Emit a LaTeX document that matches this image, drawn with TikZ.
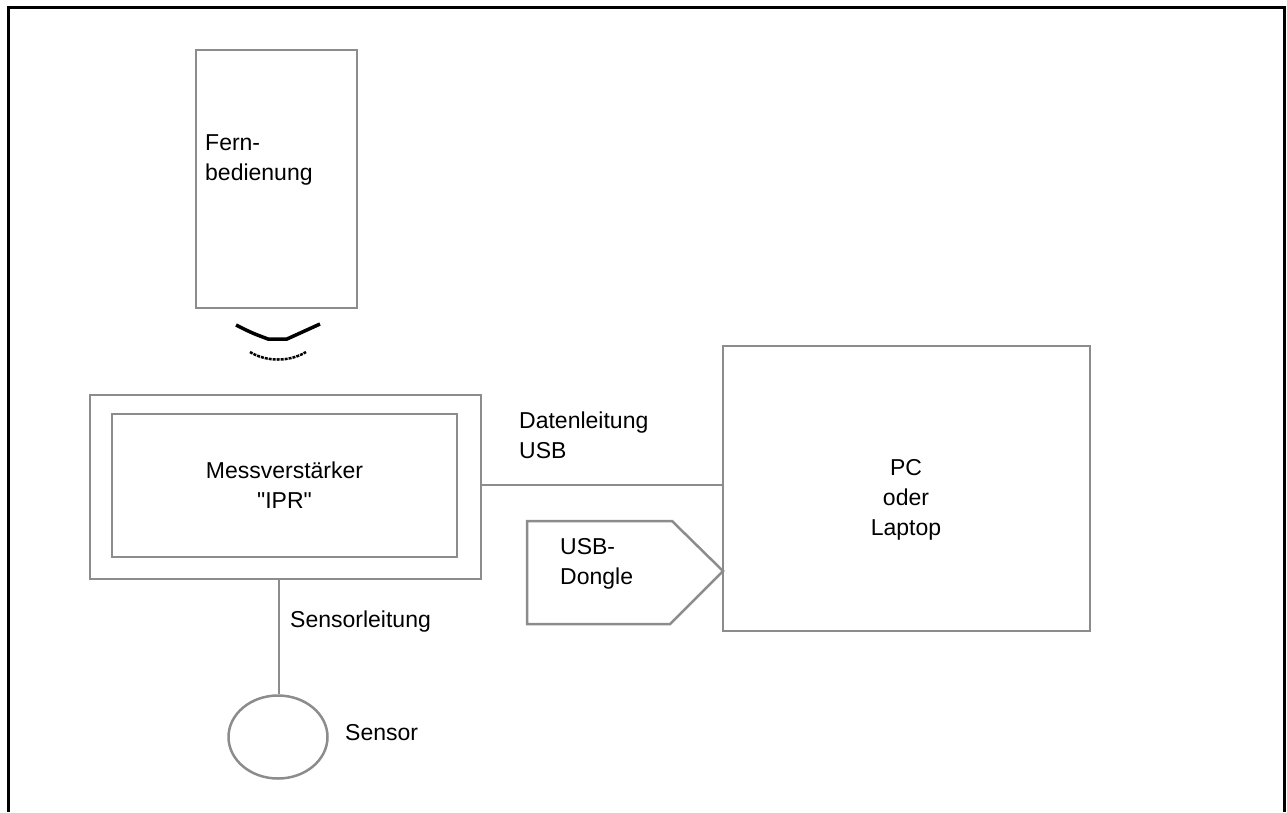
\documentclass[tikz,border=0pt]{standalone}
\usepackage{fontspec}
\setmainfont{Liberation Sans}[Ligatures=TeXOff]
\usetikzlibrary{calc,shapes.geometric}
\definecolor{boxgray}{HTML}{8C8C8C}
\tikzset{
  box/.style={draw=boxgray,line width=2.5pt,inner sep=0pt},
  lbl/.style={inner sep=0pt,font=\fontsize{23}{30}\selectfont},
  wire/.style={draw=boxgray,line width=2.5pt},
}
\begin{document}
\begin{tikzpicture}[x=1pt,y=-1pt]
            \useasboundingbox (0,0) rectangle (1287,812);
            % frame
            \draw[line width=3pt](8, 812) -- (8, 7) -- (1284, 7) -- (1284, 812);
            % boxes
            \node[box,minimum width=161,minimum height=258] (remote) at (276.5, 179) {};
            \node[box,minimum width=391,minimum height=184] (ampout) at (285.5, 487) {};
            \node[box,minimum width=345,minimum height=143] (ampin) at (284.5, 485.5) {};
            \node[box,minimum width=367,minimum height=285] (pc) at (906.5, 488.5) {};
            \node[box,ellipse,minimum width=99,minimum height=83] (sensor) at (278, 737) {};
            \coordinate (donglein) at (723, 571);
            \draw[wire,line join=miter](donglein) -- (672, 521) -- (527, 521) -- (527, 624) -- (670, 624) -- cycle;
            % labels
            \node[lbl,anchor=west,align=left] (remotetxt) at (205, 160) {Fern-\\bedienung};
            \node[lbl,align=center] (amptxt) at (ampin) {Messverstärker\\"IPR"};
            \node[lbl,align=center] (pctxt) at (906, 500) {PC\\oder\\Laptop};
            \node[lbl,anchor=west,align=left] (dongletxt) at (560, 564) {USB-\\Dongle};
            \node[lbl,anchor=west,align=left] (datatxt) at (519, 435) {Datenleitung\\USB};
            \node[lbl,anchor=west] (sensorlinetxt) at (290, 622) {Sensorleitung};
            \node[lbl,anchor=west] (sensortxt) at (345, 733) {Sensor};
            % connectors
            \draw[wire](ampout.east |- 0, 485) -- (pc.west |- 0, 485);
            \draw[wire](ampout.south -| 279, 0) -- (sensor.north -| 279, 0);
            % signal
            \draw[line width=3.5pt](236, 325) .. controls (252, 333) .. (268, 339) -- (287, 339) .. controls (304, 332) .. (320, 324);
            \draw[line width=2.5pt,dash pattern=on 3pt off 1pt](250, 352) .. controls (266, 362) and (290, 362) .. (306, 352);
        \end{tikzpicture}
\end{document}
